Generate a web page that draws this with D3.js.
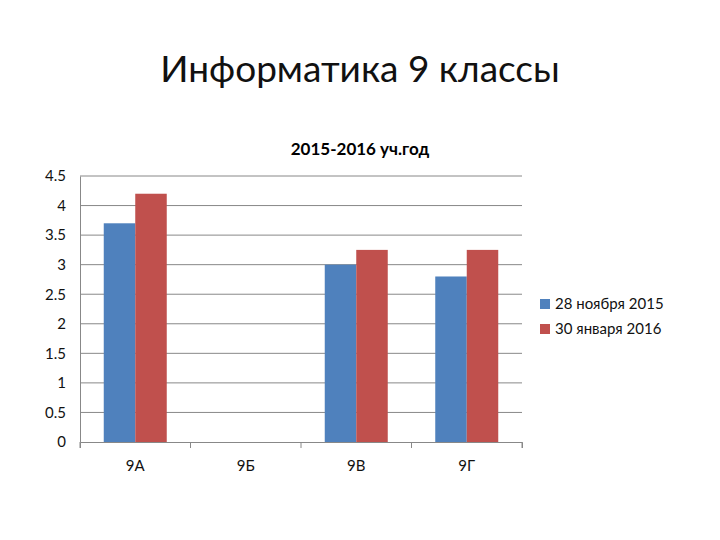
<!DOCTYPE html>
<html><head><meta charset="utf-8">
<script src="https://cdn.jsdelivr.net/npm/d3@7"></script>
<style>body{margin:0;background:#fff}text{font-family:Lato,"Open Sans",sans-serif}</style>
</head><body><svg id="c" width="720" height="540"></svg>
<script>
const categories=["9А","9Б","9В","9Г"];
const series=["28 ноября 2015","30 января 2016"];
const values1=[3.7,null,3.0,2.8];
const values2=[4.2,null,3.25,3.25];
const ticks=[0,0.5,1,1.5,2,2.5,3,3.5,4,4.5];
const colors=["#4f81bd","#c0504d"];
const svg=d3.select("#c");
const L=80,R=522,T=176,B=442;
const x=d3.scaleBand().domain(categories).range([L,R]);
const y=d3.scaleLinear().domain([0,4.5]).range([B,T]);
const xs=d3.scaleBand().domain([0,1]).range([0,63]);
svg.append("text").attr("x",360).attr("y",82).attr("text-anchor","middle").attr("font-size",37).attr("fill","#111").text("Информатика 9 классы");
svg.append("text").attr("x",360).attr("y",155).attr("text-anchor","middle").attr("font-size",17).attr("font-weight","bold").text("2015-2016 уч.год");
const yAxis=svg.append("g").attr("transform",`translate(${L},0)`).call(d3.axisLeft(y).tickValues(ticks).tickSize(0).tickPadding(14).tickFormat(d=>d));
yAxis.select(".domain").attr("stroke","#888");
yAxis.selectAll("text").attr("font-size",15).attr("fill","#111");
svg.append("g").selectAll("line").data(ticks.filter(t=>t>0)).join("line").attr("x1",L).attr("x2",R).attr("y1",d=>y(d)).attr("y2",d=>y(d)).attr("stroke","#888");
const xAxis=svg.append("g").attr("transform",`translate(0,${B})`).call(d3.axisBottom(x).tickSize(6).tickPadding(12));
xAxis.select(".domain").attr("stroke","#888");
xAxis.selectAll("line").remove();
xAxis.selectAll("text").attr("font-size",15).attr("fill","#111");
svg.append("g").selectAll("line").data(d3.range(categories.length+1)).join("line").attr("x1",i=>L+i*x.step()).attr("x2",i=>L+i*x.step()).attr("y1",B).attr("y2",B+6).attr("stroke","#888");
[values1,values2].forEach((vals,s)=>{
 svg.append("g").selectAll("rect").data(categories.map((c,i)=>({c,v:vals[i]})).filter(d=>d.v!=null)).join("rect")
  .attr("x",d=>x(d.c)+(x.bandwidth()-63)/2+xs(s)).attr("width",xs.bandwidth())
  .attr("y",d=>y(d.v)).attr("height",d=>B-y(d.v)).attr("fill",colors[s]);
});
const lg=svg.append("g");
series.forEach((s,i)=>{
 lg.append("rect").attr("x",540).attr("y",299+i*25).attr("width",10).attr("height",10).attr("fill",colors[i]);
 lg.append("text").attr("x",555).attr("y",309+i*25).attr("font-size",15).attr("fill","#111").text(s);
});
</script></body></html>
